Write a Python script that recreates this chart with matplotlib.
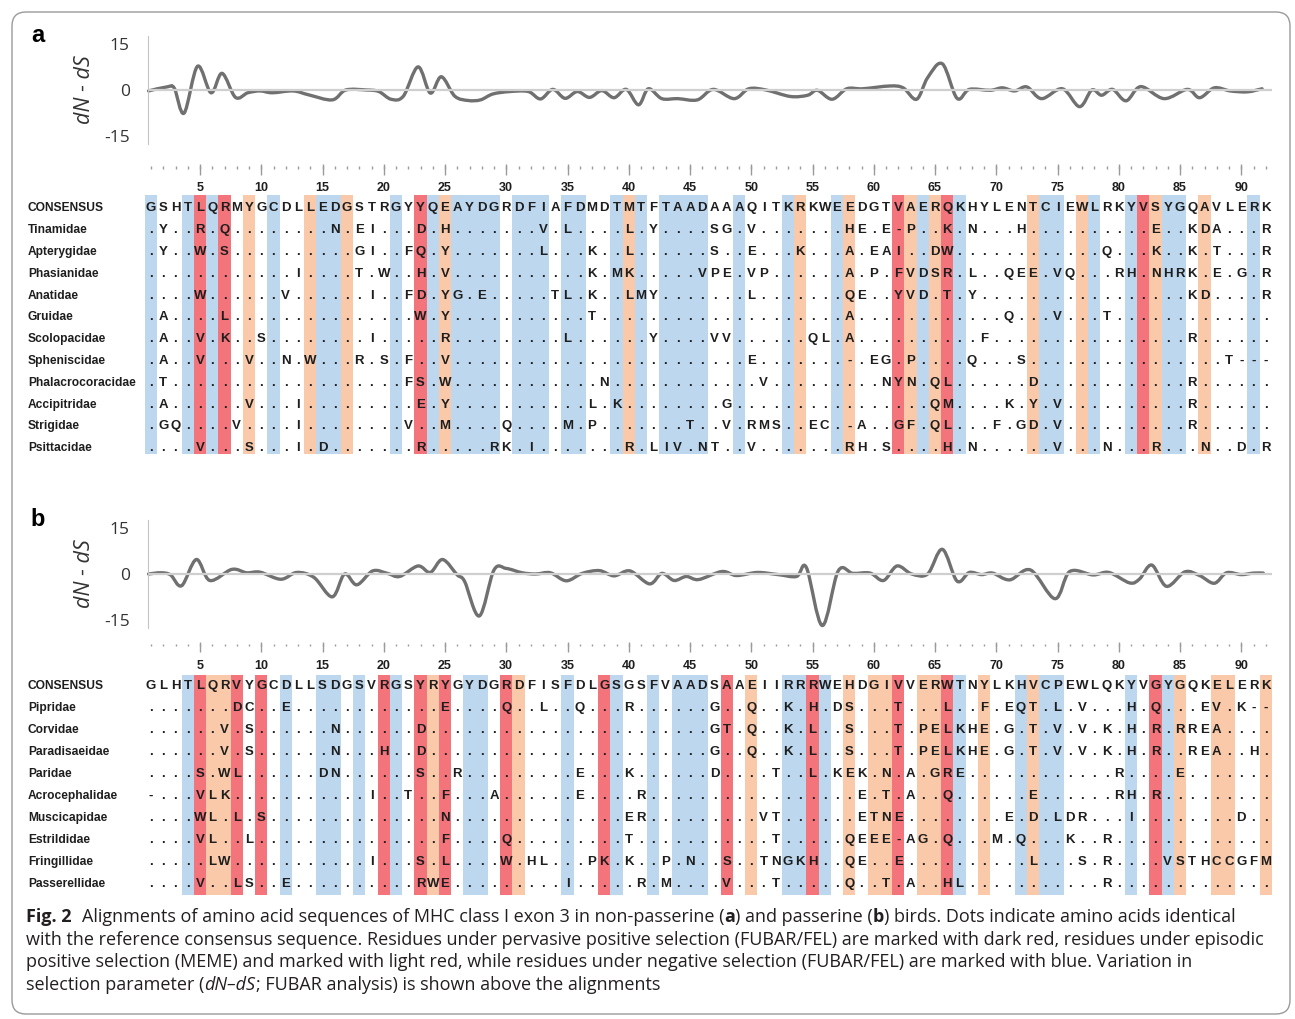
"""
Fig. 2 - alinhamentos MHC classe I exon 3 (a: não-passeriformes, b: passeriformes)
com a curva dN-dS (FUBAR) acima de cada alinhamento.
"""

import numpy as np
import matplotlib
matplotlib.use("Agg")
import matplotlib.pyplot as plt
from matplotlib.path import Path
from matplotlib.patches import PathPatch, FancyBboxPatch
from matplotlib.transforms import blended_transform_factory


# ──────────────────────────────────────────────────────────────
# DADOS
# ──────────────────────────────────────────────────────────────
N_COLS = 92
RULER_LABELS = list(range(5, 91, 5))

FAMILIES_A = ["Tinamidae", "Apterygidae", "Phasianidae", "Anatidae", "Gruidae",
              "Scolopacidae", "Spheniscidae", "Phalacrocoracidae", "Accipitridae",
              "Strigidae", "Psittacidae"]
CONSENSUS_A = ("GSHTLQRMYG CDLLEDGSTR GYYQEAYDGR DFIAFDMDTM TFTAADAAAQ "
               "ITKRKWEEDG TVAERQKHYL ENTCIEWLRK YVSYGQAVLE RK")
SEQS_A = [
    ".Y..R.Q... .....N.EI. ..D.H..... ..V.L....L .Y....SG.V .......HE. E-P..K.N.. .H........ ..E..KDA.. .R",
    ".Y..W.S... .......GI. .FQ.Y..... ..L...K..L ......S..E ...K...A.E AI..DW.... ........Q. ..K..K.T.. .R",
    ".......... ..I....T.W ..H.V..... ......K.MK .....VPE.V P......A.P .FVDSR.L.. QEE.VQ...R H.NHRK.E.G .R",
    "....W..... .V......I. .FD.YG.E.. ...TL.K..L MY.......L .......QE. .YVD.T.Y.. .......... .....KD... .R",
    ".A....L... .......... ..W.Y..... ......T... .......... .......A.. .......... Q...V...T. .......... ..",
    ".A..V.K..S ........I. ....R..... ....L..... .Y....VV.. ....QL.A.. ........F. .......... .....R.... ..",
    ".A..V...V. .N.W...R.S .F..V..... .......... .........E .......-.E G.P....Q.. .S........ ........T- --",
    ".T........ .......... .FS.W..... .......N.. .......... V......... NYN.QL.... ..D....... .....R.... ..",
    ".A......V. ..I....... ..E.Y..... ......L.K. .......G.. .......... ....QM.... K.Y.V..... .....R.... ..",
    ".GQ....V.. ..I....... .V..M....Q ....M.P... ....T..V.R MS..EC.-A. .GF.QL...F .GD.V..... .....R.... ..",
    "....V...S. ..I.D..... ..R.....RK .I.......R .LIV.NT..V .......RH. S....H.N.. ....V...N. ..R...N..D .R",
]
BLUE_A = [1, 4, 6, 11, 15, 16, 21, 24, 26, 27, 28, 29, 31, 32, 33, 35, 36, 39, 41,
          43, 44, 45, 46, 49, 53, 57, 64, 67, 74, 75, 78, 81, 84, 85, 91]
DARKRED_A = [5, 7, 23, 62, 66, 82]
LIGHTRED_A = [9, 14, 17, 25, 40, 54, 58, 63, 65, 73, 77, 83, 87]

FAMILIES_B = ["Pipridae", "Corvidae", "Paradisaeidae", "Paridae", "Acrocephalidae",
              "Muscicapidae", "Estrildidae", "Fringillidae", "Passerellidae"]
CONSENSUS_B = ("GLHTLQRVYG CDLLSDGSVR GSYRYGYDGR DFISFDLGSG SFVAADSAAE "
               "IIRRRWEHDG IVVERWTNYL KHVCPEWLQK YVGYGQKELE RK")
SEQS_B = [
    ".......DC. .E........ ....E....Q ..L..Q...R ......G..Q ..K.H.DS.. .T...L..F. EQT.L.V... H.Q...EV.K --",
    "......V.S. .....N.... ..D....... .......... ......GT.Q ..K.L..S.. .T.PELKHE. G.T.V.V.K. H.R.RREA.. ..",
    "......V.S. .....N...H ..D....... .......... ......G..Q ..K.L..S.. .T.PELKHE. G.T.V.V.K. H.R..REA.. H.",
    "....S.WL.. ....DN.... ..S..R.... .....E...K ......D... .T..L.KEK. N.A.GRE... .........R ....E..... ..",
    "-...VLK... ........I. .T..F...A. .....E.... R......... ........E. T.A..Q.... ..E......R H.R....... ..",
    "....WL.L.S .......... ....N..... .........E R......... VT......ET NE........ E.D.LDR... I........D ..",
    "....VL..L. .......... ....F....Q .........T .......... .T.....QEE E-AG.Q...M .Q...K..R. .......... ..",
    ".....LW... ........I. ..S.L....W .HL...PK.K ..P.N..S.. TNGKH..QE. .E........ ..L...S.R. ...VSTHCCG FM",
    "....V..LS. .E........ ..RWE..... ....I..... R.M....V.. .T.....Q.. T.A..HL... ........R. .......... ..",
]
BLUE_B = [4, 12, 15, 16, 18, 21, 27, 28, 35, 39, 42, 44, 45, 46, 53, 54, 56, 67,
          72, 74, 75, 81, 84]
DARKRED_B = [5, 8, 10, 20, 23, 25, 30, 38, 48, 55, 62, 66, 83]
LIGHTRED_B = [6, 7, 24, 31, 50, 58, 60, 61, 64, 65, 69, 73, 85, 88, 89, 92]

# dN - dS (FUBAR): posição no alinhamento e valor
DNDS_A_POS = [0.8, 2.3, 2.9, 3.7, 4.8, 5.9, 6.8, 7.9, 8.9, 9.9, 10.9, 12.6, 13.9,
              15.8, 16.9, 18.6, 19.6, 20.6, 21.6, 22.8, 23.8, 24.7, 25.8, 26.9,
              27.9, 28.9, 30.3, 31.8, 32.8, 33.8, 34.8, 35.8, 36.8, 37.8, 38.8,
              39.8, 40.8, 41.6, 42.7, 44.0, 45.6, 46.9, 48.6, 49.8, 51.2, 53.2,
              54.6, 55.4, 56.6, 57.8, 59.1, 61.3, 62.4, 63.5, 64.4, 65.6, 66.8,
              67.8, 69.5, 70.5, 71.5, 72.5, 73.7, 75.4, 76.8, 77.8, 78.6, 79.5,
              80.6, 81.8, 83.7, 85.6, 86.6, 87.8, 89.1, 90.5, 91.7]
DNDS_A_VAL = [-0.3, 1.0, 0.6, -7.5, 7.7, -0.9, 5.4, -2.4, -0.9, -0.3, -0.9, -0.3,
              -1.6, -3.2, 0.0, 0.0, -0.5, -3.0, -2.0, 7.5, -1.0, 4.3, -2.0, -3.4,
              -3.2, -1.3, -0.5, -0.5, -2.9, 0.2, -2.7, -0.5, -2.4, -0.2, -2.5,
              0.2, -4.8, 0.4, -2.8, -2.8, -3.2, 0.2, -2.8, 0.4, 0.0, -2.1,
              -1.7, -0.1, -3.0, 0.4, 0.4, 1.3, 0.7, -3.0, 4.0, 8.5, -2.7,
              0.2, -0.1, 0.7, -0.3, 1.0, -2.8, 0.4, -5.4, 0.0, -1.7, 0.2,
              -3.5, 1.1, -2.8, 0.2, -2.5, 0.7, -0.3, -0.6, 0.4]

DNDS_B_POS = [0.8, 1.8, 2.6, 3.5, 4.7, 5.8, 7.6, 8.8, 9.9, 11.6, 12.9, 14.3, 15.8,
              16.8, 17.8, 19.1, 20.3, 21.3, 22.8, 23.8, 24.8, 26.0, 26.6, 27.8,
              29.0, 30.0, 31.3, 32.4, 33.6, 34.9, 36.2, 37.6, 38.8, 40.1, 41.7,
              42.7, 43.7, 44.7, 45.7, 47.6, 48.8, 50.5, 52.2, 53.7, 54.5, 55.8,
              57.1, 58.3, 59.7, 60.8, 61.9, 63.1, 64.4, 65.6, 66.8, 67.8, 68.8,
              69.7, 71.1, 72.8, 74.8, 76.0, 77.9, 79.2, 80.9, 81.7, 82.7, 83.9,
              85.4, 86.6, 87.8, 88.8, 90.0, 91.0, 91.8]
DNDS_B_VAL = [0.0, 0.4, -0.3, -3.8, 4.7, -2.1, 1.5, 0.4, 0.6, -1.7, 0.5, -1.1, -7.4,
              0.0, -3.5, 1.0, 0.2, -0.8, 2.6, 0.5, 4.7, -0.3, -2.4, -13.6,
              1.3, 1.8, 0.4, 0.0, 0.4, -2.2, 0.2, 1.1, -0.6, 1.0, -3.2,
              0.2, -2.1, -0.8, -1.8, 0.8, -0.5, 0.5, -0.2, -0.8, 2.1, -16.7,
              1.0, 0.2, 0.3, -2.1, 2.6, 0.0, 0.0, 8.0, -2.3, 0.5, -0.2,
              0.3, -1.9, 1.3, -8.0, 0.8, -0.3, 0.5, -2.9, -1.6, 2.9, -4.0,
              0.7, -0.5, -3.0, 0.4, -0.2, 0.3, 0.3]

CAPTION = [
    [("Fig. 2", "bold"), ("GAP", None),
     ("Alignments of amino acid sequences of MHC class I exon 3 in non-passerine (", "normal"),
     ("a", "bold"), (") and passerine (", "normal"), ("b", "bold"),
     (") birds. Dots indicate amino acids identical", "normal")],
    [("with the reference consensus sequence. Residues under pervasive positive selection "
      "(FUBAR/FEL) are marked with dark red, residues under episodic", "normal")],
    [("positive selection (MEME) and marked with light red, while residues under negative "
      "selection (FUBAR/FEL) are marked with blue. Variation in", "normal")],
    [("selection parameter (", "normal"), ("dN\u2013dS", "italic"),
     ("; FUBAR analysis) is shown above the alignments", "normal")],
]

# ──────────────────────────────────────────────────────────────
# ESTILO / LAYOUT (pixels da figura)
# ──────────────────────────────────────────────────────────────
W, H = 1295, 1019
COL1_PX, COL_STEP = 151, 12.25
C_BLUE, C_DARKRED, C_LIGHTRED = "#bdd7ee", "#f4747b", "#f9c9a9"
C_TEXT = "#1e1e1e"
ARIAL = ["Liberation Sans", "DejaVu Sans"]
SANS = ["Open Sans", "DejaVu Sans"]


def px_x(n):
    return COL1_PX + (n - 1) * COL_STEP


def px_axes(fig, left, right, top, bottom):
    return fig.add_axes([left / W, 1 - bottom / H, (right - left) / W, (bottom - top) / H])


def ajustar_tamanho(fig, texto, largura_px, **kw):
    # tamanho de fonte para que 'texto' ocupe largura_px
    r = fig.canvas.get_renderer()
    t = fig.text(0, 0, texto, fontsize=10, **kw)
    w = t.get_window_extent(r).width
    t.remove()
    return 10 * largura_px / w


def smooth_path(xs, ys):
    # curva suavizada (tipo Excel) passando pelos pontos lidos
    pts = np.column_stack([xs, ys])
    verts, codes = [pts[0]], [Path.MOVETO]
    for i in range(len(pts) - 1):
        p0, p1 = pts[max(i - 1, 0)], pts[i]
        p2, p3 = pts[i + 1], pts[min(i + 2, len(pts) - 1)]
        verts += [p1 + (p2 - p0) / 6, p2 - (p3 - p1) / 6, p2]
        codes += [Path.CURVE4] * 3
    return Path(verts, codes)


def desenhar_painel(fig, letra, letra_y, plot_top, plot_bot, row0, row_step,
                    shade_top, shade_bot, familias, consenso, seqs,
                    azul, vermelho, laranja, pos, val, tam_nome):
    # ── curva dN - dS ─────────────────────────────────────────
    axc = px_axes(fig, px_x(0.5), px_x(92.5), plot_top, plot_bot)
    axc.set_xlim(0.5, 92.5)
    axc.set_ylim(-17.5, 17.5)
    for s in ["top", "right", "bottom"]:
        axc.spines[s].set_visible(False)
    axc.spines["left"].set_position(("data", 0.75))
    axc.spines["left"].set_color("#c4c4c4")
    axc.set_xticks([])
    axc.set_yticks([-15, 0, 15])
    axc.set_yticklabels(["-15", "0", "15"], family=SANS)
    axc.tick_params(axis="y", length=0, pad=13, labelsize=12.5, labelcolor="#333333")
    axc.patch.set_alpha(0)
    axc.hlines(0, 0.75, 92.6, color="#cfcfcf", lw=1.6)
    axc.add_patch(PathPatch(smooth_path(pos, val), fill=False, ec="#707070",
                            lw=2.4, capstyle="round", joinstyle="round"))
    fig.text(85 / W, 1 - (plot_top + plot_bot) / 2 / H, "dN - dS", rotation=90,
             ha="center", va="center", fontsize=15.5, style="italic",
             family=SANS, color="#333333")
    fig.text(38 / W, 1 - letra_y / H, letra, fontsize=17, fontweight="bold",
             family=ARIAL, ha="center", va="center")

    # ── alinhamento ───────────────────────────────────────────
    n_rows = len(familias) + 1
    top_px = row0 - 2.2 * row_step
    bot_px = row0 + (n_rows - 1 + 0.55) * row_step
    ax = px_axes(fig, px_x(0.5), px_x(92.5), top_px, bot_px)
    ax.set_xlim(0.5, 92.5)
    ax.set_ylim(n_rows - 1 + 0.55, -2.2)
    ax.axis("off")

    altura = n_rows - 1 + shade_bot - shade_top
    for cols, cor in [(azul, C_BLUE), (vermelho, C_DARKRED), (laranja, C_LIGHTRED)]:
        ax.bar(cols, altura, bottom=shade_top, width=1.0, color=cor, lw=0)

    # régua
    ax.vlines(range(1, N_COLS + 1), -1.93, -1.80, color="#9a9a9a", lw=1)
    ax.vlines(RULER_LABELS, -2.02, -1.55, color="#9a9a9a", lw=1)
    for n in RULER_LABELS:
        ax.text(n, -0.92, str(n), ha="center", va="center", fontsize=9,
                fontweight="bold", family=ARIAL, color=C_TEXT)

    linhas = [consenso.replace(" ", "")] + [s.replace(" ", "") for s in seqs]
    nomes = ["CONSENSUS"] + familias
    trans = blended_transform_factory(fig.transFigure, ax.transData)
    for r, (nome, seq) in enumerate(zip(nomes, linhas)):
        assert len(seq) == N_COLS, (nome, len(seq))
        ax.text(28 / W, r, nome, transform=trans, ha="left", va="center",
                fontsize=tam_nome, fontweight="bold", family=ARIAL, color=C_TEXT)
        for c, ch in enumerate(seq, start=1):
            ax.text(c, r, ch, ha="center", va="center", fontsize=9.5,
                    fontweight="bold", family=ARIAL, color=C_TEXT)


if __name__ == "__main__":
    fig = plt.figure(figsize=(W / 100, H / 100), dpi=100)

    # fundo em pixels: moldura e legenda
    bg = fig.add_axes([0, 0, 1, 1])
    bg.set_xlim(0, W)
    bg.set_ylim(H, 0)
    bg.axis("off")
    bg.add_patch(FancyBboxPatch((12, 12), 1278, 1002,
                                boxstyle="round,pad=0,rounding_size=14",
                                fill=False, ec="#9a9a9a", lw=1.0))

    tam_nome = ajustar_tamanho(fig, "Phalacrocoracidae", 106, fontweight="bold", family=ARIAL)

    desenhar_painel(fig, "a", 35, 36, 144, 208.3, 21.8, -0.6, 0.25,
                    FAMILIES_A, CONSENSUS_A, SEQS_A, BLUE_A, DARKRED_A, LIGHTRED_A,
                    DNDS_A_POS, DNDS_A_VAL, tam_nome)
    desenhar_painel(fig, "b", 520, 520, 628, 686, 22.0, -0.5, 0.5,
                    FAMILIES_B, CONSENSUS_B, SEQS_B, BLUE_B, DARKRED_B, LIGHTRED_B,
                    DNDS_B_POS, DNDS_B_VAL, tam_nome)

    # ── legenda (ajusta o tamanho à largura da linha 2) ───────
    renderer = fig.canvas.get_renderer()
    tam = ajustar_tamanho(fig, CAPTION[1][0][0], 1238, family=SANS)

    for i, partes in enumerate(CAPTION):
        x = 26
        y = 917 + i * 22.7
        for txt, estilo in partes:
            if estilo is None:
                x += 10
                continue
            t = bg.text(x, y, txt, ha="left", va="center", fontsize=tam, family=SANS,
                        fontweight="bold" if estilo == "bold" else "normal",
                        style="italic" if estilo == "italic" else "normal",
                        color="#231f20")
            x += t.get_window_extent(renderer).width

    fig.savefig("out.png", dpi=100)
    plt.close(fig)
